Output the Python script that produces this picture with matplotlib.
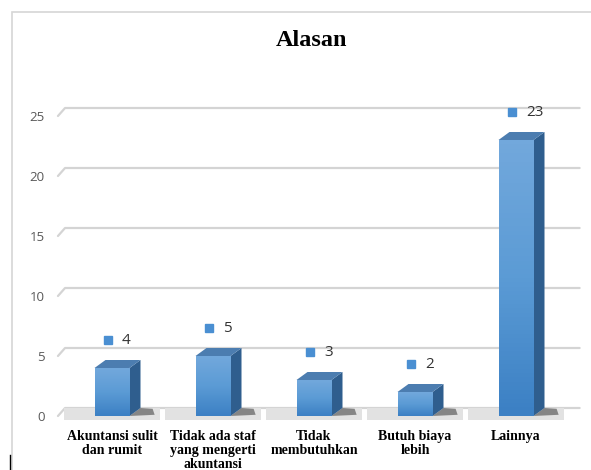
import numpy as np
import matplotlib.pyplot as plt
from matplotlib.patches import Polygon, Rectangle
from matplotlib.lines import Line2D
from matplotlib.colors import LinearSegmentedColormap

categories = ["Akuntansi sulit\ndan rumit", "Tidak ada staf\nyang mengerti\nakuntansi",
              "Tidak\nmembutuhkan", "Butuh biaya\nlebih", "Lainnya"]
values = [4, 5, 3, 2, 23]
yticks = [0, 5, 10, 15, 20, 25]

W, H = 591, 470
fig = plt.figure(figsize=(W / 100, H / 100), dpi=100)

# outer chart frame
fig.patches.append(Rectangle((12 / W, -0.1), 1.2, (H - 12) / H + 0.1, transform=fig.transFigure,
                             fill=False, edgecolor="#d6d6d6", lw=1.2))
fig.lines.append(Line2D([10 / W, 10 / W], [0, 15 / H], transform=fig.transFigure, color="black", lw=1))

# 12 px per unit, y=0 at 416 px from top, first category centre at 112 px, 101 px spacing
ytop = 27
ax = fig.add_axes([61.5 / W, (H - 416) / H, 505 / W, ytop * 12 / H])
ax.set_xlim(-0.5, 4.5)
ax.set_ylim(0, ytop)
for s in ax.spines.values():
    s.set_visible(False)

dx, dy = 11 / 101, 8 / 12
bw = 35 / 101
xl, xr = -0.535, 4.63

# gridlines on the back wall
for t in yticks:
    ax.plot([xl, xl + 0.07, xr], [t, t + dy, t + dy], color="#d4d4d4", lw=1.6,
            clip_on=False, zorder=1, solid_capstyle="round")

# floor slab with gaps between categories
for i in range(len(categories)):
    a = max(i - 0.5, xl) + 0.02
    b = min(i + 0.5, xr) - 0.02
    ax.add_patch(Polygon([(a, -0.3), (b, -0.3), (b, dy), (a, dy)], closed=True,
                         facecolor="#e2e2e2", edgecolor="none", clip_on=False, zorder=1))

grad = np.linspace(0, 1, 64).reshape(-1, 1)
cmap = LinearSegmentedColormap.from_list("bar", ["#3c80c4", "#5b9bd5", "#72a8dc"])

for i, v in enumerate(values):
    x0, x1 = i - bw / 2, i + bw / 2
    # shadow
    ax.add_patch(Polygon([(x1, 0), (x1 + dx + 0.14, 0.1), (x1 + dx + 0.12, dy * 0.9), (x1 + dx, dy)],
                         closed=True, facecolor="#3a3a3a", alpha=0.55, edgecolor="none", zorder=2))
    # side face
    ax.add_patch(Polygon([(x1, 0), (x1 + dx, dy), (x1 + dx, v + dy), (x1, v)], closed=True,
                         facecolor="#2f5e8e", edgecolor="none", zorder=3))
    # top face
    ax.add_patch(Polygon([(x0, v), (x0 + dx, v + dy), (x1 + dx, v + dy), (x1, v)], closed=True,
                         facecolor="#4c7db0", edgecolor="none", zorder=3))
    # front face with vertical gradient
    ax.imshow(grad, extent=(x0, x1, 0, v), origin="lower", cmap=cmap, aspect="auto", zorder=4)
    # data label
    ax.plot(i - 0.04, v + 2.33, marker="s", ms=5.5, color="#4a8fd2", zorder=5)
    ax.text(i + 0.1, v + 2.33, str(v), fontsize=11, color="#333333", family="Open Sans",
            va="center", ha="left", zorder=5)

ax.set_xlim(-0.5, 4.5)
ax.set_ylim(0, ytop)
ax.set_yticks(yticks)
ax.set_yticklabels([str(t) for t in yticks], fontsize=9.5, color="#595959", family="Open Sans")
ax.tick_params(axis="y", length=0, pad=12)
ax.set_xticks(range(len(categories)))
ax.set_xticklabels(categories, fontsize=10, fontweight="bold", family="Liberation Serif",
                   linespacing=1.12)
ax.tick_params(axis="x", length=0, pad=10)

fig.text(312 / W, (H - 40) / H, "Alasan", ha="center", va="center", fontsize=17.5,
         fontweight="bold", family="Liberation Serif")

fig.savefig("out.png", dpi=100)
